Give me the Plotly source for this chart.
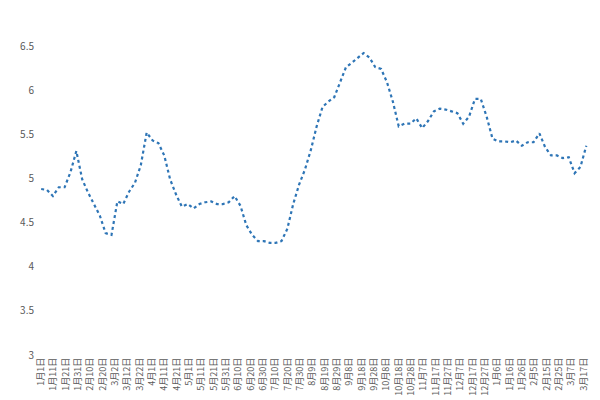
import pandas as pd
import plotly.graph_objects as go

# 约每5天读一个值
values = [4.88, 4.87, 4.80, 4.90, 4.90, 5.07, 5.31, 4.99, 4.84, 4.71, 4.58, 4.38, 4.36,
          4.74, 4.71, 4.85, 4.95, 5.15, 5.52, 5.43, 5.40, 5.26, 4.99, 4.82, 4.68, 4.71,
          4.66, 4.71, 4.73, 4.74, 4.71, 4.71, 4.73, 4.80, 4.69, 4.47, 4.36, 4.29, 4.29,
          4.27, 4.27, 4.29, 4.43, 4.71, 4.93, 5.10, 5.32, 5.59, 5.81, 5.87, 5.92, 6.09,
          6.26, 6.31, 6.37, 6.42, 6.37, 6.26, 6.24, 6.09, 5.87, 5.59, 5.62, 5.62, 5.68,
          5.57, 5.65, 5.76, 5.79, 5.78, 5.76, 5.74, 5.62, 5.70, 5.90, 5.90, 5.70, 5.45,
          5.42, 5.42, 5.41, 5.43, 5.37, 5.41, 5.41, 5.51, 5.35, 5.26, 5.26, 5.23, 5.24,
          5.06, 5.13, 5.37]
dates = pd.date_range("2021-01-01", "2022-03-19", periods=len(values))
tick_dates = pd.date_range("2021-01-01", "2022-03-17", freq="10D")
tick_labels = [f"{d.month}月{d.day}日" for d in tick_dates]

fig = go.Figure()
fig.add_trace(go.Scatter(
    x=dates, y=values, mode="lines",
    line=dict(color="#2E75B6", width=2.2, dash="dot"),
))

fig.update_layout(
    width=600, height=400,
    margin=dict(l=26, r=18, t=38, b=48),
    plot_bgcolor="white", paper_bgcolor="white",
    showlegend=False,
    font=dict(family="Noto Sans CJK SC", color="#595959", size=10),
)
fig.update_xaxes(
    tickvals=tick_dates, ticktext=tick_labels, tickangle=-90,
    tickfont=dict(size=9), showgrid=False, range=["2020-12-27", "2022-03-22"],
    showline=False,
)
fig.update_yaxes(range=[3, 6.5], dtick=0.5, showgrid=False, zeroline=False,
                 tickfont=dict(size=10))

fig.write_html("out.html")
